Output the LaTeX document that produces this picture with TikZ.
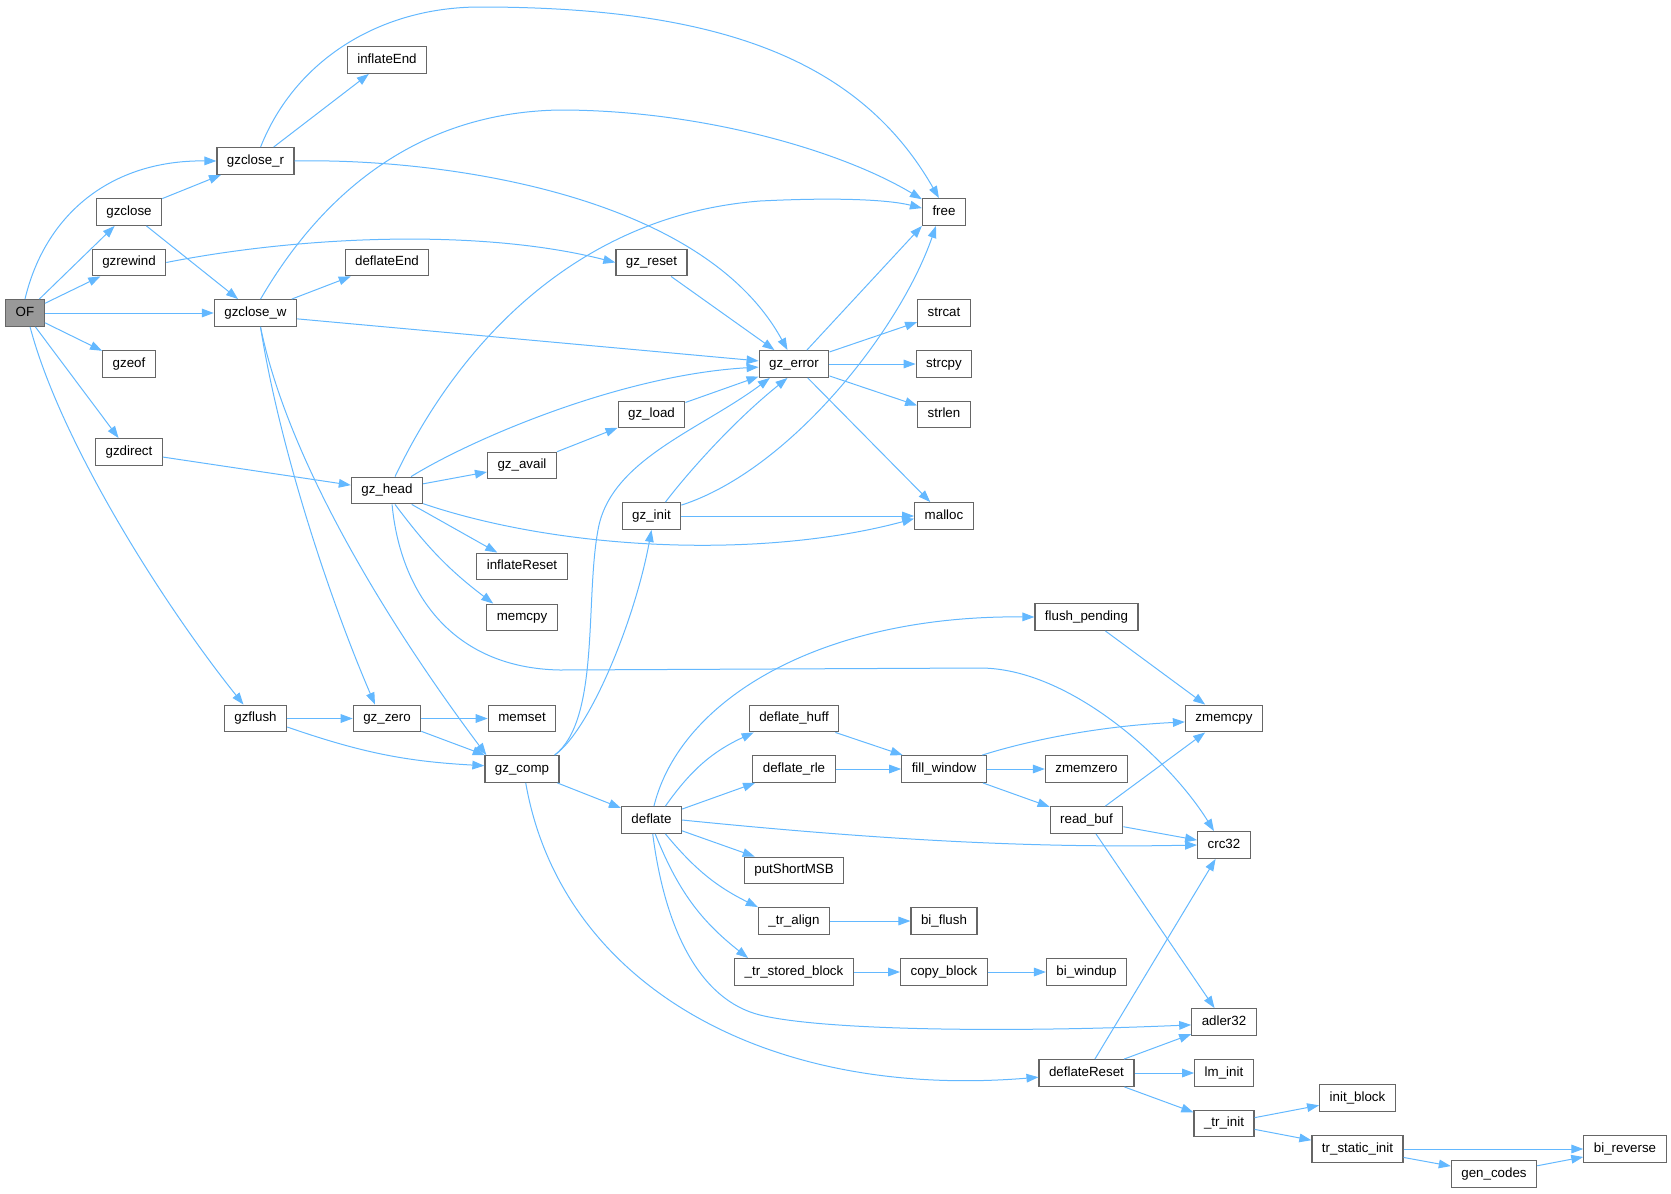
\documentclass[tikz,border=0pt]{standalone}
\usepackage{fontspec}
\setmainfont{Liberation Sans}
\usepackage{tikz}
\usetikzlibrary{arrows.meta,calc}
\definecolor{callblue}{HTML}{63B8FF}
\definecolor{boxgray}{HTML}{666666}
\definecolor{rootgray}{HTML}{999999}

\begin{document}
\begin{tikzpicture}[
    x=0.75pt, y=-0.75pt,
    fn/.style={draw=boxgray, line width=0.9pt, fill=white, inner xsep=7.5pt, inner ysep=0pt,
               minimum height=20pt, font=\fontsize{10}{12}\selectfont, text height=7.3pt, text depth=2.1pt},
    rootfn/.style={fn, fill=rootgray},
    call/.style={draw=callblue, line width=0.75pt, -{Triangle[length=9pt, width=6.5pt]}}
]
    \useasboundingbox (0,0) rectangle (1671,1193);

    % Caller on far left
    \node[rootfn] (OF) at (25, 313) {OF};

    % gz* entry points
    \node[fn] (gzclose)  at (129, 212) {gzclose};
    \node[fn] (gzrewind) at (129, 262.5) {gzrewind};
    \node[fn] (gzeof)    at (129, 364) {gzeof};
    \node[fn] (gzdirect) at (129, 452) {gzdirect};

    \node[fn] (gzclose_r) at (255.5, 161) {gzclose\_r};
    \node[fn] (gzclose_w) at (255.5, 313) {gzclose\_w};
    \node[fn] (gzflush)   at (255.5, 718.5) {gzflush};

    \node[fn] (inflateEnd) at (387, 60) {inflateEnd};
    \node[fn] (deflateEnd) at (387, 262.5) {deflateEnd};
    \node[fn] (gz_head)    at (387, 490.5) {gz\_head};
    \node[fn] (gz_zero)    at (387, 718.5) {gz\_zero};

    \node[fn] (gz_avail)     at (522, 465.5) {gz\_avail};
    \node[fn] (inflateReset) at (522, 566.5) {inflateReset};
    \node[fn] (memcpy)       at (522, 617.5) {memcpy};
    \node[fn] (memset)       at (522, 718.5) {memset};
    \node[fn] (gz_comp)      at (522, 769) {gz\_comp};

    \node[fn] (gz_reset) at (651.5, 262.5) {gz\_reset};
    \node[fn] (gz_load)  at (651.5, 414.5) {gz\_load};
    \node[fn] (gz_init)  at (651.5, 516) {gz\_init};
    \node[fn] (deflate)  at (651.5, 820) {deflate};

    \node[fn] (gz_error)     at (794, 364) {gz\_error};
    \node[fn] (deflate_huff) at (794, 718.5) {deflate\_huff};
    \node[fn] (deflate_rle)  at (794, 769) {deflate\_rle};
    \node[fn] (putShortMSB)  at (794, 870.5) {putShortMSB};
    \node[fn] (tr_align)     at (794, 921) {\_tr\_align};
    \node[fn] (tr_stored)    at (794, 972) {\_tr\_stored\_block};

    % libc and zlib helpers
    \node[fn] (free)        at (944, 212) {free};
    \node[fn] (strcat)      at (944, 313) {strcat};
    \node[fn] (strcpy)      at (944, 364) {strcpy};
    \node[fn] (strlen)      at (944, 414.5) {strlen};
    \node[fn] (malloc)      at (944, 516) {malloc};
    \node[fn] (fill_window) at (944, 769) {fill\_window};
    \node[fn] (bi_flush)    at (944, 921) {bi\_flush};
    \node[fn] (copy_block)  at (944, 972) {copy\_block};

    \node[fn] (flush_pending) at (1086.5, 617) {flush\_pending};
    \node[fn] (zmemzero)      at (1086.5, 769) {zmemzero};
    \node[fn] (read_buf)      at (1086.5, 820) {read\_buf};
    \node[fn] (bi_windup)     at (1086.5, 972) {bi\_windup};
    \node[fn] (deflateReset)  at (1086.5, 1073) {deflateReset};

    \node[fn] (zmemcpy) at (1224, 718.5) {zmemcpy};
    \node[fn] (crc32)   at (1224, 845) {crc32};
    \node[fn] (adler32) at (1224, 1022) {adler32};
    \node[fn] (lm_init) at (1224, 1073) {lm\_init};
    \node[fn] (tr_init) at (1224, 1123.5) {\_tr\_init};

    \node[fn] (init_block)  at (1357.5, 1098) {init\_block};
    \node[fn] (static_init) at (1357.5, 1149) {tr\_static\_init};
    \node[fn] (gen_codes)   at (1494, 1174) {gen\_codes};
    \node[fn] (bi_reverse)  at (1625, 1149) {bi\_reverse};

    % Straight calls
    \foreach \a/\b in {OF/gzclose, OF/gzrewind, OF/gzclose_w, OF/gzeof, OF/gzdirect,
                       gzclose/gzclose_r, gzclose/gzclose_w, gzclose_r/inflateEnd,
                       gzclose_w/deflateEnd, gz_reset/gz_error, gzdirect/gz_head,
                       gz_head/gz_avail, gz_head/inflateReset, gz_avail/gz_load, gz_load/gz_error,
                       gz_error/strcat, gz_error/strcpy, gz_error/strlen, gz_error/malloc,
                       gz_init/malloc, gzflush/gz_zero, gz_zero/memset, gz_zero/gz_comp,
                       gz_comp/deflate, deflate/deflate_rle, deflate/putShortMSB,
                       deflate_huff/fill_window, deflate_rle/fill_window,
                       fill_window/zmemzero, fill_window/read_buf, flush_pending/zmemcpy,
                       read_buf/zmemcpy, read_buf/crc32, read_buf/adler32,
                       tr_align/bi_flush, tr_stored/copy_block, copy_block/bi_windup,
                       deflateReset/crc32, deflateReset/adler32, deflateReset/lm_init,
                       deflateReset/tr_init, tr_init/init_block, tr_init/static_init,
                       static_init/bi_reverse, static_init/gen_codes, gen_codes/bi_reverse} {
        \draw[call] (\a) -- (\b);
    }

    % Curved calls from OF
    \draw[call] (OF.north) .. controls (45,215) and (110,160) .. (gzclose_r.west);
    \draw[call] (OF.-70) .. controls (60,440) and (160,600) .. ($(gzflush.north)+(-12,0)$);

    % Calls from gzclose_r / gzclose_w / gzrewind
    \draw[call] (gzclose_r.70) .. controls (295,60) and (380,7) .. (480,7)
                .. controls (720,7) and (860,60) .. (free.110);
    \draw[call] (gzclose_r.east) .. controls (430,158) and (700,190) .. (gz_error.115);
    \draw[call] (gzrewind.east) .. controls (300,236) and (480,228) .. (gz_reset.west);
    \draw[call] (gzclose_w.70) .. controls (330,180) and (430,112) .. (560,110)
                .. controls (700,110) and (840,150) .. (free.150);
    \draw[call] (gzclose_w.-8) -- (gz_error.175);
    \draw[call] ($(gzclose_w.south)+(5,0)$) .. controls (280,450) and (330,600) .. ($(gz_zero.north)+(-12,0)$);
    \draw[call] ($(gzclose_w.south)+(5,0)$) .. controls (290,470) and (400,640) .. ($(gz_comp.north west)+(2,0)$);
    \draw[call] (gzflush.-15) to[bend right=8] (gz_comp.175);

    % Calls from gz_head
    \draw[call] (gz_head.60) .. controls (460,340) and (580,215) .. (760,201)
                .. controls (840,197) and (890,200) .. (free.170);
    \draw[call] (gz_head.30) .. controls (470,440) and (620,375) .. (gz_error.185);
    \draw[call] (gz_head.-20) .. controls (560,550) and (760,560) .. (malloc.-175);
    \draw[call] (gz_head.-60) to[bend right=8] ($(memcpy.north west)+(7,0)$);
    \draw[call] (gz_head.-70) .. controls (400,590) and (450,668) .. (560,670) -- (980,668)
                .. controls (1070,668) and (1170,760) .. ($(crc32.north)+(-10,0)$);

    % Calls into free and gz_error
    \draw[call] (gz_error) -- (free.south west);
    \draw[call] (gz_init.45) .. controls (690,470) and (735,420) .. (gz_error.-115);
    \draw[call] (gz_init.20) .. controls (790,470) and (900,330) .. (free.-120);

    % Calls from gz_comp
    \draw[call] ($(gz_comp.north east)+(-5,0)$) .. controls (600,720) and (585,600) .. (598,530)
                .. controls (610,460) and (700,430) .. (gz_error.-150);
    \draw[call] ($(gz_comp.north east)+(-5,0)$) .. controls (590,730) and (635,620) .. (gz_init.south);
    \draw[call] (gz_comp.-75) .. controls (560,980) and (760,1100) .. (deflateReset.-175);

    % Calls from deflate
    \draw[call] (deflate.80) .. controls (680,700) and (820,615) .. (flush_pending.west);
    \draw[call] (deflate.45) to[bend left=15] ($(deflate_huff.south west)+(5,0)$);
    \draw[call] (deflate.east) .. controls (900,842) and (1050,848) .. (crc32.west);
    \draw[call] (deflate.-45) to[bend right=12] (tr_align.north west);
    \draw[call] (deflate.-75) to[bend right=15] ($(tr_stored.north west)+(14,0)$);
    \draw[call] (deflate.-85) .. controls (665,930) and (700,1000) .. (760,1015)
                .. controls (820,1030) and (1000,1033) .. (adler32.-175);

    % fill_window into zmemcpy
    \draw[call] (fill_window.20) .. controls (1030,740) and (1100,726) .. (zmemcpy.-175);

\end{tikzpicture}
\end{document}
